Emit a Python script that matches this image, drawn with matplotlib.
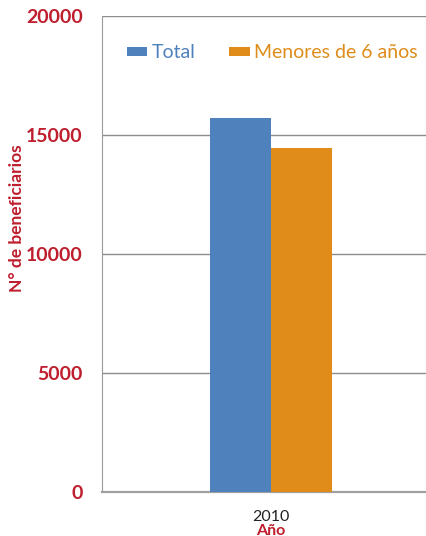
import matplotlib.pyplot as plt

# Datos
anios = ["2010"]
series = ["Total", "Menores de 6 años"]
total = [15700]
menores = [14450]
colores = ["#4F81BD", "#DF8C1A"]
rojo = "#BE1E2D"

plt.rcParams["font.family"] = ["Lato", "DejaVu Sans"]

fig = plt.figure(figsize=(4.26, 5.36), dpi=100)
ax = fig.add_axes([102 / 426, 1 - 492 / 536, 338 / 426, 476 / 536])

x = list(range(len(anios)))
ancho = 0.18
ax.bar([i - ancho / 2 for i in x], total, width=ancho, color=colores[0], label=series[0], zorder=3)
ax.bar([i + ancho / 2 for i in x], menores, width=ancho, color=colores[1], label=series[1], zorder=3)

ax.set_xlim(-0.5, 0.5)
ax.set_ylim(0, 20000)
ax.set_yticks([0, 5000, 10000, 15000, 20000])
ax.set_xticks(x)
ax.set_xticklabels(anios, fontsize=11.5, color="#222222")
ax.tick_params(axis="both", length=0)
ax.tick_params(axis="y", pad=14, labelsize=14, labelcolor=rojo)
ax.tick_params(axis="x", pad=13)
for t in ax.get_yticklabels():
    t.set_fontweight("bold")

ax.yaxis.grid(True, color="#8C8C8C", linewidth=1, zorder=0)
ax.spines["top"].set_visible(False)
ax.spines["right"].set_visible(False)
ax.spines["left"].set_color("#9A9A9A")
ax.spines["bottom"].set_color("#A0A0A0")
ax.spines["bottom"].set_linewidth(1.6)

ax.set_ylabel("N° de beneficiarios", fontsize=12.5, fontweight="bold", color=rojo)
ax.yaxis.set_label_coords(-(102 - 25) / 338, (492 - 218) / 476)
ax.set_xlabel("Año", fontsize=11.5, fontweight="bold", color=rojo, labelpad=0)

fig.legend(loc="center left", bbox_to_anchor=(127 / 426, 1 - 53 / 536), ncol=2, frameon=False,
           fontsize=14, handlelength=1.05, handleheight=0.4, handletextpad=0.2,
           columnspacing=1.75, borderpad=0, borderaxespad=0, labelcolor=colores)

fig.savefig("out.png", dpi=100)
